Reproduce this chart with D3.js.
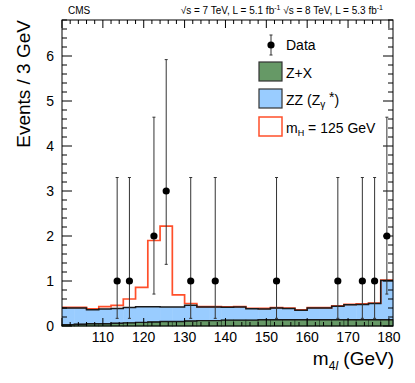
<!DOCTYPE html>
<html>
<head>
<meta charset="utf-8">
<script src="https://cdn.jsdelivr.net/npm/d3@7"></script>
<style>
body { margin: 0; background: #fff; }
svg { font-family: "Liberation Sans", Arial, sans-serif; }
</style>
</head>
<body>
<script>
// bins of 3 GeV, low edges
var binLows = [100,103,106,109,112,115,118,121,124,127,130,133,136,139,142,145,148,151,154,157,160,163,166,169,172,175,178];
var binWidth = 3;

// stacked expectations per bin
var zxVals = [0.03,0.04,0.05,0.05,0.06,0.07,0.08,0.09,0.10,0.10,0.11,0.12,0.12,0.13,0.13,0.13,0.14,0.14,0.14,0.14,0.14,0.14,0.14,0.14,0.14,0.14,0.14];
var bkgTotal = [0.40,0.40,0.36,0.38,0.39,0.41,0.43,0.43,0.42,0.42,0.46,0.42,0.42,0.415,0.42,0.385,0.38,0.40,0.39,0.35,0.40,0.40,0.44,0.47,0.48,0.50,1.01];
var sigVals = [0.015,0.015,0.02,0.05,0.07,0.19,0.43,1.47,1.80,0.27,0.04,0.01,0.01,0.01,0.01,0.01,0.01,0.01,0.01,0.01,0.01,0.01,0.01,0.01,0.01,0.01,0.01];

// observed events
var dataMass = [113.5,116.5,122.5,125.5,131.5,137.5,152.5,167.5,173.5,176.5,179.5];
var dataCounts = [1,1,2,3,1,1,1,1,1,1,2];
var errLow = [0.83,0.83,1.29,1.63,0.83,0.83,0.83,0.83,0.83,0.83,1.29];
var errHigh = [2.30,2.30,2.64,2.92,2.30,2.30,2.30,2.30,2.30,2.30,2.64];

var xTicks = [110,120,130,140,150,160,170,180];
var yTicks = [0,1,2,3,4,5,6];

var width = 415, height = 383;
var pLeft = 62, pRight = 393, pTop = 20, pBottom = 326;

var x = d3.scaleLinear().domain([100, 181]).range([pLeft, pRight]);
var y = d3.scaleLinear().domain([0, 6.8]).range([pBottom, pTop]);

var svg = d3.select("body").append("svg")
    .attr("width", width)
    .attr("height", height);

var bins = binLows.map(function(lo, i) {
	return { lo: lo, hi: lo + binWidth, zx: zxVals[i], tot: bkgTotal[i], sig: sigVals[i] };
});

// ZZ (blue) from Z+X top up to total
svg.append("g").selectAll("rect.zz")
    .data(bins).enter().append("rect")
    .attr("x", function(d) { return x(d.lo); })
    .attr("width", function(d) { return x(d.hi) - x(d.lo) + 0.5; })
    .attr("y", function(d) { return y(d.tot); })
    .attr("height", function(d) { return y(0) - y(d.tot); })
    .attr("fill", "#99ccff");

// Z+X (green) with bin outlines
svg.append("g").selectAll("rect.zx")
    .data(bins).enter().append("rect")
    .attr("x", function(d) { return x(d.lo); })
    .attr("width", function(d) { return x(d.hi) - x(d.lo); })
    .attr("y", function(d) { return y(d.zx); })
    .attr("height", function(d) { return y(0) - y(d.zx); })
    .attr("fill", "#669966")
    .attr("stroke", "#2d4a2d")
    .attr("stroke-width", 0.8);

function stepPath(valFn) {
	var pts = [];
	bins.forEach(function(d) {
		pts.push([x(d.lo), y(valFn(d))]);
		pts.push([x(d.hi), y(valFn(d))]);
	});
	return d3.line()(pts);
}

// Z+X top line
svg.append("path")
    .attr("d", stepPath(function(d) { return d.zx; }))
    .attr("fill", "none")
    .attr("stroke", "#1a1a1a")
    .attr("stroke-width", 1.4);

// signal on top of background
svg.append("path")
    .attr("d", stepPath(function(d) { return d.tot + d.sig; }))
    .attr("fill", "none")
    .attr("stroke", "#ff4f2a")
    .attr("stroke-width", 1.7);

// total background line
svg.append("path")
    .attr("d", stepPath(function(d) { return d.tot; }))
    .attr("fill", "none")
    .attr("stroke", "#1a1a1a")
    .attr("stroke-width", 1.5);

// frame and ticks
var axisG = svg.append("g").attr("stroke", "#000").attr("stroke-width", 1);
axisG.append("rect")
    .attr("x", pLeft).attr("y", pTop)
    .attr("width", pRight - pLeft).attr("height", pBottom - pTop)
    .attr("fill", "none");

var xMinor = d3.range(100, 181.01, 2);
xMinor.forEach(function(v) {
	var major = v % 10 === 0;
	var len = major ? 8 : 4;
	axisG.append("line").attr("x1", x(v)).attr("x2", x(v)).attr("y1", pBottom).attr("y2", pBottom - len);
	axisG.append("line").attr("x1", x(v)).attr("x2", x(v)).attr("y1", pTop).attr("y2", pTop + len);
});
var yMinor = d3.range(0, 6.81, 0.2);
yMinor.forEach(function(v) {
	var major = Math.abs(v - Math.round(v)) < 1e-6;
	var len = major ? 10 : 5;
	axisG.append("line").attr("y1", y(v)).attr("y2", y(v)).attr("x1", pLeft).attr("x2", pLeft + len);
	axisG.append("line").attr("y1", y(v)).attr("y2", y(v)).attr("x1", pRight).attr("x2", pRight - len);
});

svg.append("g").selectAll("text.xt")
    .data(xTicks).enter().append("text")
    .attr("x", function(d) { return x(d); })
    .attr("y", 342)
    .attr("text-anchor", "middle")
    .attr("font-size", 14)
    .text(function(d) { return d; });

svg.append("g").selectAll("text.yt")
    .data(yTicks).enter().append("text")
    .attr("x", 54)
    .attr("y", function(d) { return y(d) + 5; })
    .attr("text-anchor", "end")
    .attr("font-size", 14)
    .text(function(d) { return d; });

// data points with errors
var pts = svg.append("g");
dataMass.forEach(function(m, i) {
	var cx = x(m), n = dataCounts[i];
	var y1 = y(n - errLow[i]), y2 = y(n + errHigh[i]);
	pts.append("line").attr("x1", cx).attr("x2", cx).attr("y1", y1).attr("y2", y2)
	    .attr("stroke", "#333").attr("stroke-width", 1);
	pts.append("line").attr("x1", cx - 1.5).attr("x2", cx + 1.5).attr("y1", y1).attr("y2", y1)
	    .attr("stroke", "#333").attr("stroke-width", 1);
	pts.append("line").attr("x1", cx - 1.5).attr("x2", cx + 1.5).attr("y1", y2).attr("y2", y2)
	    .attr("stroke", "#333").attr("stroke-width", 1);
	pts.append("circle").attr("cx", cx).attr("cy", y(n)).attr("r", 3.6).attr("fill", "#000");
});

// titles
svg.append("text").attr("x", 68).attr("y", 14).attr("font-size", 10).text("CMS");
var lum = svg.append("text").attr("x", 383).attr("y", 14).attr("font-size", 10).attr("text-anchor", "end");
lum.append("tspan").text("\u221As = 7 TeV, L = 5.1 fb");
lum.append("tspan").attr("font-size", 7).attr("dy", -4).text("-1");
lum.append("tspan").attr("dy", 4).text(" \u221As = 8 TeV, L = 5.3 fb");
lum.append("tspan").attr("font-size", 7).attr("dy", -4).text("-1");

svg.append("text")
    .attr("transform", "translate(30,20) rotate(-90)")
    .attr("text-anchor", "end")
    .attr("font-size", 19)
    .text("Events / 3 GeV");

var xl = svg.append("text").attr("x", 394).attr("y", 365).attr("text-anchor", "end").attr("font-size", 19);
xl.append("tspan").text("m");
xl.append("tspan").attr("font-size", 12).attr("dy", 5).text("4");
xl.append("tspan").attr("font-size", 12).attr("font-style", "italic").text("l");
xl.append("tspan").attr("dy", -5).text(" (GeV)");

// legend
var lg = svg.append("g");
var lx = 259, lw = 23, lh = 19;
lg.append("line").attr("x1", 271).attr("x2", 271).attr("y1", 35).attr("y2", 55).attr("stroke", "#333");
lg.append("line").attr("x1", 269.5).attr("x2", 272.5).attr("y1", 35).attr("y2", 35).attr("stroke", "#333");
lg.append("line").attr("x1", 269.5).attr("x2", 272.5).attr("y1", 55).attr("y2", 55).attr("stroke", "#333");
lg.append("circle").attr("cx", 271).attr("cy", 45).attr("r", 3.6).attr("fill", "#000");
lg.append("text").attr("x", 286).attr("y", 50).attr("font-size", 14).text("Data");

lg.append("rect").attr("x", lx).attr("y", 62).attr("width", lw).attr("height", lh)
    .attr("fill", "#669966").attr("stroke", "#333").attr("stroke-width", 1.2);
lg.append("text").attr("x", 286).attr("y", 78).attr("font-size", 14).text("Z+X");

lg.append("rect").attr("x", lx).attr("y", 89).attr("width", lw).attr("height", lh)
    .attr("fill", "#99ccff").attr("stroke", "#333").attr("stroke-width", 1.2);
var zz = lg.append("text").attr("x", 286).attr("y", 105).attr("font-size", 14);
zz.append("tspan").text("ZZ (Z");
zz.append("tspan").attr("font-size", 10).attr("dy", 3).text("\u03B3");
zz.append("tspan").attr("dy", -6).text(" *");
zz.append("tspan").attr("dy", 3).text(")");

lg.append("rect").attr("x", lx).attr("y", 117).attr("width", lw).attr("height", lh)
    .attr("fill", "#fff").attr("stroke", "#ff4f2a").attr("stroke-width", 1.5);
var mh = lg.append("text").attr("x", 286).attr("y", 133).attr("font-size", 14);
mh.append("tspan").text("m");
mh.append("tspan").attr("font-size", 9).attr("dy", 3).text("H");
mh.append("tspan").attr("dy", -3).text(" = 125 GeV");
</script>
</body>
</html>
